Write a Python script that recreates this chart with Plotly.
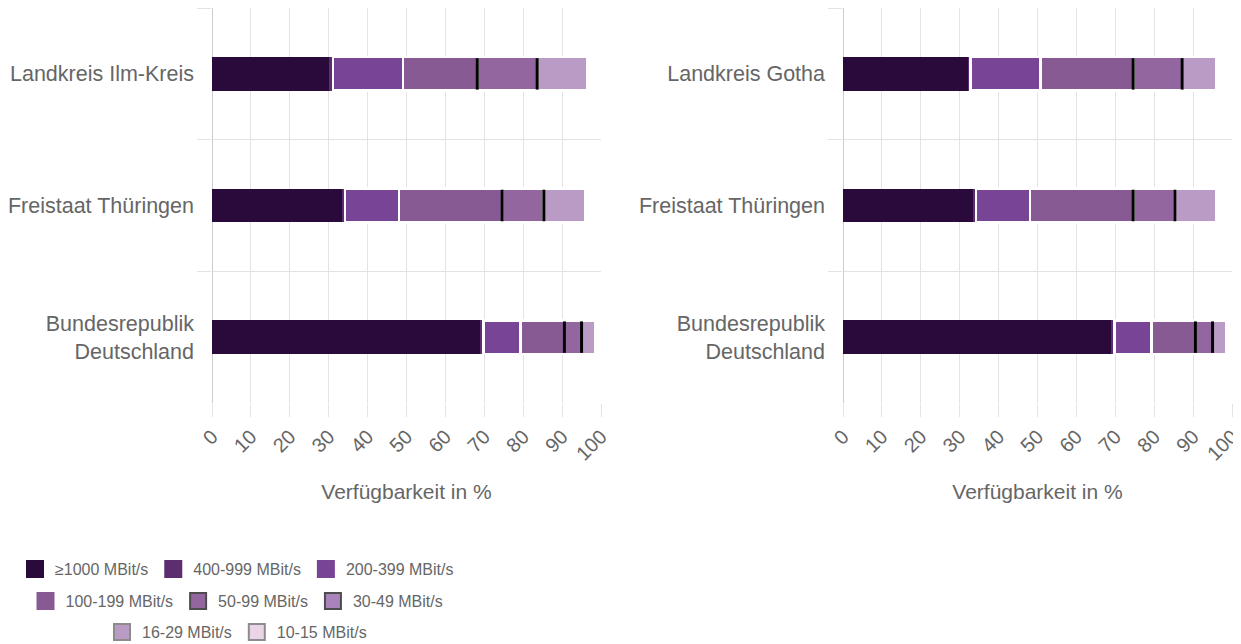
import numpy as np
import plotly.graph_objects as go

# ---------------- data ----------------
speed_labels = ["≥1000 MBit/s", "400-999 MBit/s", "200-399 MBit/s", "100-199 MBit/s",
                "50-99 MBit/s", "30-49 MBit/s", "16-29 MBit/s", "10-15 MBit/s"]
speed_colors = ["#290a3a", "#5c2d6f", "#774496", "#875a94",
                "#9366a0", "#a983b9", "#b99bc5", "#e9d4e8"]
legend_borders = ["#290a3a", "#5c2d6f", "#774496", "#875a94",
                  "#4d4d4d", "#4d4d4d", "#8c8c8c", "#8c8c8c"]

regions_left = ["Landkreis Ilm-Kreis", "Freistaat Thüringen", "Bundesrepublik<br>Deutschland"]
regions_right = ["Landkreis Gotha", "Freistaat Thüringen", "Bundesrepublik<br>Deutschland"]

# availability share (%) per speed class, regions in the order listed above
left_1000 = [30.2, 33.3, 68.8]
left_400 = [0.9, 0.9, 1.0]
left_200 = [18.0, 13.9, 9.5]
left_100 = [19.1, 26.5, 11.3]
left_50 = [15.4, 10.7, 4.4]
left_30 = [0.0, 0.0, 0.0]
left_16 = [12.8, 10.7, 3.6]
left_10 = [0.0, 0.0, 0.0]

right_1000 = [32.3, 33.3, 68.8]
right_400 = [0.4, 0.9, 1.0]
right_200 = [18.0, 13.9, 9.5]
right_100 = [23.9, 26.5, 11.3]
right_50 = [12.6, 10.7, 4.4]
right_30 = [0.0, 0.0, 0.0]
right_16 = [8.9, 10.7, 3.6]
right_10 = [0.0, 0.0, 0.0]

x_ticks = [0, 10, 20, 30, 40, 50, 60, 70, 80, 90, 100]
x_title = "Verfügbarkeit in %"

left_series = [left_1000, left_400, left_200, left_100, left_50, left_30, left_16, left_10]
right_series = [right_1000, right_400, right_200, right_100, right_50, right_30, right_16, right_10]

# ---------------- figure ----------------
FONT = "Liberation Sans, Arial, sans-serif"
TXT = "#666666"
GRID = "#e3e3e3"

# the page body has an 8px margin; lay the figure out in page pixels
OFF = 8
W, H = 1241 - OFF, 644 - OFF


def fx(px):
    return (px - OFF) / W


def fy(py):
    return 1 - (py - OFF) / H


fig = go.Figure()


def add_panel(series, regions, xa, ya):
    for i, (lab, col) in enumerate(zip(speed_labels, speed_colors)):
        lw = 0 if i < 2 else 2.7
        fig.add_trace(go.Bar(
            x=series[i], y=regions, orientation="h", name=lab,
            marker=dict(color=col, line=dict(color="white", width=lw)),
            width=0.254, showlegend=False, legendgroup=lab,
            xaxis=xa, yaxis=ya, hoverinfo="x+y+name"))
    cum = np.cumsum(np.array(series), axis=0)
    # black threshold markers after 100-199 and after 50-99
    for k in (3, 4):
        fig.add_trace(go.Scatter(
            x=cum[k], y=regions, mode="markers",
            marker=dict(symbol="line-ns", size=22.5, color="black",
                        line=dict(color="black", width=3)),
            showlegend=False, hoverinfo="skip", xaxis=xa, yaxis=ya))


add_panel(left_series, regions_left, "x", "y")
add_panel(right_series, regions_right, "x2", "y2")

legend_rows = ["legend", "legend", "legend", "legend2", "legend2", "legend2", "legend3", "legend3"]
for lab, col, bcol, lg in zip(speed_labels, speed_colors, legend_borders, legend_rows):
    fig.add_trace(go.Scatter(
        x=[None], y=[None], mode="markers", name=lab, legendgroup=lab,
        marker=dict(symbol="square", size=16, color=col, line=dict(color=bcol, width=2)),
        legend=lg, xaxis="x", yaxis="y", showlegend=True))

xaxis_common = dict(
    range=[0, 100], tickvals=x_ticks, tickangle=-45,
    showgrid=True, gridcolor=GRID, gridwidth=1,
    zeroline=True, zerolinecolor="#cccccc", zerolinewidth=1,
    ticks="outside", ticklen=13, tickcolor=GRID,
    tickfont=dict(family=FONT, size=20, color=TXT),
    ticklabeloverflow="allow",
    title=dict(text=x_title, font=dict(family=FONT, size=21, color=TXT), standoff=20),
    showline=False, fixedrange=True, automargin=False,
)
yaxis_common = dict(
    type="category", autorange="reversed",
    tickson="boundaries", showgrid=True, gridcolor=GRID, gridwidth=1,
    ticks="outside", ticklen=14, tickcolor=GRID, ticklabelstandoff=17,
    tickfont=dict(family=FONT, size=21.5, color=TXT),
    showline=False, zeroline=False, fixedrange=True, automargin=False,
)

leg_common = dict(orientation="h", x=fx(237), xanchor="center", yanchor="middle",
                  font=dict(family=FONT, size=16, color=TXT), bgcolor="rgba(0,0,0,0)",
                  traceorder="normal", itemclick=False, itemdoubleclick=False)

fig.update_layout(
    width=W, height=H,
    margin=dict(l=0, r=0, t=0, b=0, autoexpand=False),
    paper_bgcolor="white", plot_bgcolor="white",
    barmode="stack", bargap=0.75,
    font=dict(family=FONT, color=TXT),
    xaxis=dict(domain=[fx(212), fx(601)], anchor="y", **xaxis_common),
    yaxis=dict(domain=[fy(403), fy(8)], anchor="x",
               categoryarray=regions_left, **yaxis_common),
    xaxis2=dict(domain=[fx(843), fx(1232)], anchor="y2", **xaxis_common),
    yaxis2=dict(domain=[fy(403), fy(8)], anchor="x2",
                categoryarray=regions_right, **yaxis_common),
    legend=dict(y=fy(569), **leg_common),
    legend2=dict(y=fy(601), **leg_common),
    legend3=dict(y=fy(632), **leg_common),
    showlegend=True,
)

fig.write_html("out.html")
